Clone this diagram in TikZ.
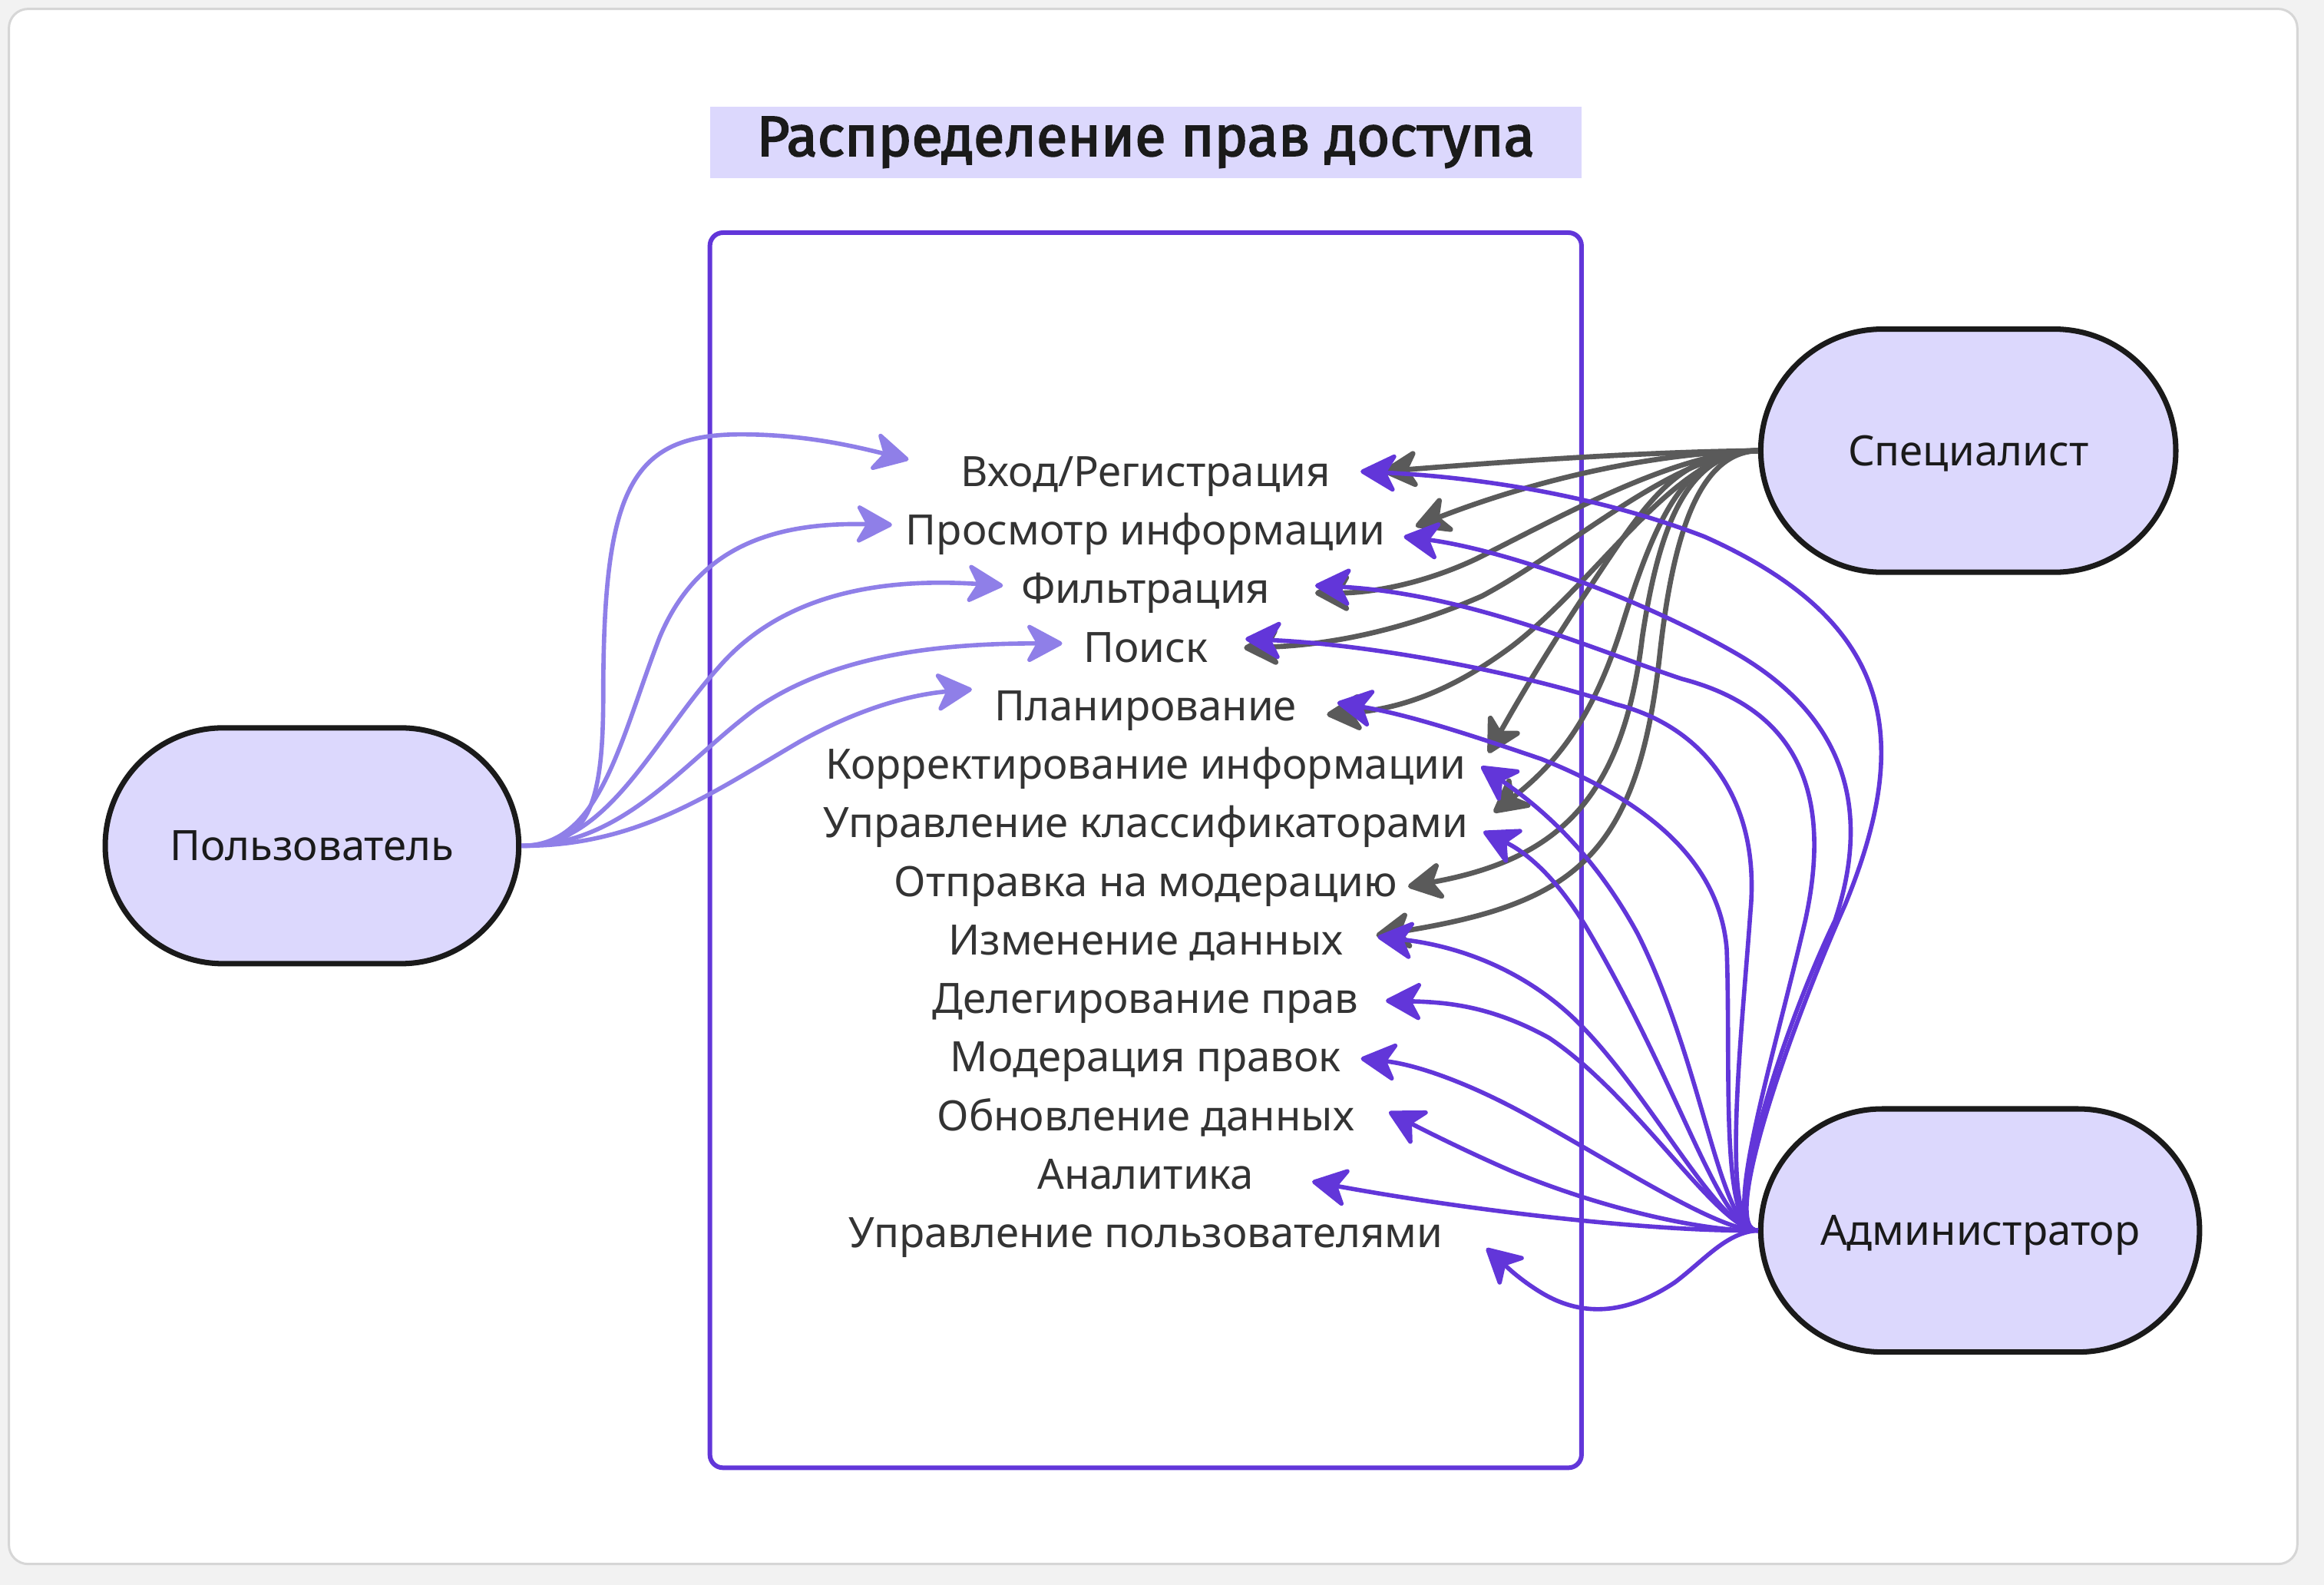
\documentclass[tikz,border=0pt]{standalone}
\usepackage{fontspec}
\setmainfont{Noto Sans}
\newfontfamily\titlefont{Fira Sans}[AutoFakeBold=2.5]
\usetikzlibrary{arrows.meta,shapes.misc,calc}
\definecolor{bgc}{HTML}{F2F2F2}
\definecolor{framec}{HTML}{D6D6D6}
\definecolor{lav}{HTML}{DCD8FD}
\definecolor{ink}{HTML}{1A1A1A}
\definecolor{txt}{HTML}{333333}
\definecolor{userc}{HTML}{8F7FE8}
\definecolor{adminc}{HTML}{6236D9}
\definecolor{specc}{HTML}{5A5A5A}
\begin{document}
\begin{tikzpicture}[x=0.019305cm,y=-0.019305cm,
  item/.style={inner sep=0pt, text=txt, font=\fontsize{15.5}{18}\selectfont, text height=11pt, text depth=0pt},
  actor/.style={rounded rectangle, draw=ink, line width=2pt, fill=lav, text=ink, font=\fontsize{15.5}{18}\selectfont, inner sep=0pt, text height=11pt, text depth=0pt},
  tip/.style={-{Stealth[length=15pt,width=16pt,inset=4.5pt,round]}},
  uedge/.style={tip, draw=userc, line width=1.6pt},
  sedge/.style={tip, draw=specc, line width=1.9pt},
  aedge/.style={tip, draw=adminc, line width=1.6pt},
]
\useasboundingbox (0,0) rectangle (1568,1069.15);
\fill[bgc] (0,0) rectangle (1568,1069.15);
\draw[framec, line width=0.85pt, fill=white, rounded corners=0.25cm] (6,6) rectangle (1550,1055);

\node[fill=lav, minimum width=11.351cm, minimum height=0.927cm, inner sep=0pt, text=ink,
  font=\titlefont\fontsize{21}{24}\selectfont\bfseries] (title) at (773,96) {Распределение прав доступа};
\node[draw=adminc, line width=1.7pt, rounded corners=0.17cm, minimum width=11.351cm, minimum height=16.081cm, inner sep=0pt] (grp) at (773,573.5) {};

\node[item] (i1) at (773,318) {Вход/Регистрация};
\node[item] (i2) at (773,357.5) {Просмотр информации};
\node[item] (i3) at (773,397) {Фильтрация};
\node[item] (i4) at (773,436.5) {Поиск};
\node[item] (i5) at (773,476) {Планирование};
\node[item] (i6) at (773,515.5) {Корректирование информации};
\node[item] (i7) at (773,555) {Управление классификаторами};
\node[item] (i8) at (773,594.5) {Отправка на модерацию};
\node[item] (i9) at (773,634) {Изменение данных};
\node[item] (i10) at (773,673.5) {Делегирование прав};
\node[item] (i11) at (773,713) {Модерация правок};
\node[item] (i12) at (773,752.5) {Обновление данных};
\node[item] (i13) at (773,792) {Аналитика};
\node[item] (i14) at (773,831.5) {Управление пользователями};

\node[actor, minimum width=5.386cm, minimum height=3.07cm] (user) at (210.5,570.5) {Пользователь};
\node[actor, minimum width=5.405cm, minimum height=3.166cm] (spec) at (1328,304) {Специалист};
\node[actor, minimum width=5.714cm, minimum height=3.166cm] (admin) at (1336,830) {Администратор};

% user edges
\draw[uedge] (user.east) .. controls (395,571) and (407,548) .. (407,470) .. controls (407,330) and (425,293) .. (500,293) .. controls (545,293) and (580,302) .. ($(i1.west)+(-35,-8)$);
\draw[uedge] (user.east) .. controls (405,571) and (418,500) .. (445,430) .. controls (470,370) and (520,352) .. ($(i2.west)+(-9,-3.5)$);
\draw[uedge] (user.east) .. controls (410,571) and (440,500) .. (485,450) .. controls (530,398) and (600,390) .. ($(i3.west)+(-12,-2)$);
\draw[uedge] (user.east) .. controls (420,571) and (460,515) .. (510,478) .. controls (565,440) and (640,434) .. ($(i4.west)+(-14,-2.5)$);
\draw[uedge] (user.east) .. controls (430,571) and (480,535) .. (540,500) .. controls (585,475) and (620,468) .. ($(i5.west)+(-15,-11)$);

% specialist edges
\draw[sedge] (spec.west) .. controls (1100,305) and (1010,312) .. ($(i1.east)+(35,0)$);
\draw[sedge] (spec.west) .. controls (1120,305) and (1040,322) .. ($(i2.east)+(20,-2.5)$);
\draw[sedge] (spec.west) .. controls (1130,305) and (1050,350) .. (996,377) .. controls (960,394) and (925,400) .. ($(i3.east)+(30,3)$);
\draw[sedge] (spec.west) .. controls (1130,305) and (1060,370) .. (1000,402) .. controls (950,424) and (900,435) .. ($(i4.east)+(24,0.5)$);
\draw[sedge] (spec.west) .. controls (1130,305) and (1080,390) .. (1020,436) .. controls (985,462) and (950,478) .. ($(i5.east)+(20,6)$);
\draw[sedge] (spec.west) .. controls (1130,305) and (1110,340) .. (1070,400) .. controls (1040,445) and (1020,480) .. ($(i6.east)+(15,-7.5)$);
\draw[sedge] (spec.west) .. controls (1140,305) and (1120,340) .. (1095,420) .. controls (1075,485) and (1050,515) .. ($(i7.east)+(17,-7)$);
\draw[sedge] (spec.west) .. controls (1140,305) and (1120,350) .. (1108,430) .. controls (1095,540) and (1050,580) .. ($(i8.east)+(7,3.5)$);
\draw[sedge] (spec.west) .. controls (1150,305) and (1130,350) .. (1120,440) .. controls (1105,580) and (1060,610) .. ($(i9.east)+(22,-3)$);

% administrator edges
\draw[aedge] (admin.west) .. controls (1160,831) and (1205,700) .. (1245,610) .. controls (1290,500) and (1280,420) .. (1150,362) .. controls (1080,335) and (1000,322) .. ($(i1.east)+(20,0)$);
\draw[aedge] (admin.west) .. controls (1160,831) and (1200,700) .. (1238,621) .. controls (1265,540) and (1240,480) .. (1170,440) .. controls (1100,400) and (1010,370) .. ($(i2.east)+(12,4.5)$);
\draw[aedge] (admin.west) .. controls (1160,831) and (1195,720) .. (1218,621) .. controls (1240,520) and (1200,475) .. (1135,458) .. controls (1080,440) and (990,400) .. ($(i3.east)+(30,-2)$);
\draw[aedge] (admin.west) .. controls (1160,831) and (1175,700) .. (1181,615) .. controls (1188,540) and (1150,490) .. (1090,475) .. controls (1030,455) and (930,435) .. ($(i4.east)+(25,-5.5)$);
\draw[aedge] (admin.west) .. controls (1160,831) and (1168,720) .. (1165,640) .. controls (1160,580) and (1110,540) .. (1040,512) .. controls (990,495) and (950,482) .. ($(i5.east)+(27,-2)$);
\draw[aedge] (admin.west) .. controls (1160,831) and (1150,720) .. (1105,630) .. controls (1075,575) and (1040,545) .. ($(i6.east)+(10,1.5)$);
\draw[aedge] (admin.west) .. controls (1160,831) and (1135,735) .. (1070,625) .. controls (1050,592) and (1030,575) .. ($(i7.east)+(10,6)$);
\draw[aedge] (admin.west) .. controls (1160,831) and (1115,740) .. (1065,690) .. controls (1030,655) and (985,638) .. ($(i9.east)+(23,-2)$);
\draw[aedge] (admin.west) .. controls (1160,831) and (1105,740) .. (1045,700) .. controls (1005,678) and (975,676) .. ($(i10.east)+(18,1.5)$);
\draw[aedge] (admin.west) .. controls (1160,831) and (1090,785) .. (1030,752) .. controls (990,730) and (955,718) .. ($(i11.east)+(13,1)$);
\draw[aedge] (admin.west) .. controls (1150,831) and (1080,815) .. (1020,790) .. controls (990,777) and (960,762) .. ($(i12.east)+(23,-2.5)$);
\draw[aedge] (admin.west) .. controls (1120,831) and (1000,818) .. ($(i13.east)+(39,5)$);
\draw[aedge] (admin.west) .. controls (1165,831) and (1150,850) .. (1130,865) .. controls (1100,885) and (1070,890) .. (1040,872) .. controls (1025,863) and (1015,853) .. ($(i14.east)+(29,10.5)$);
\end{tikzpicture}
\end{document}
